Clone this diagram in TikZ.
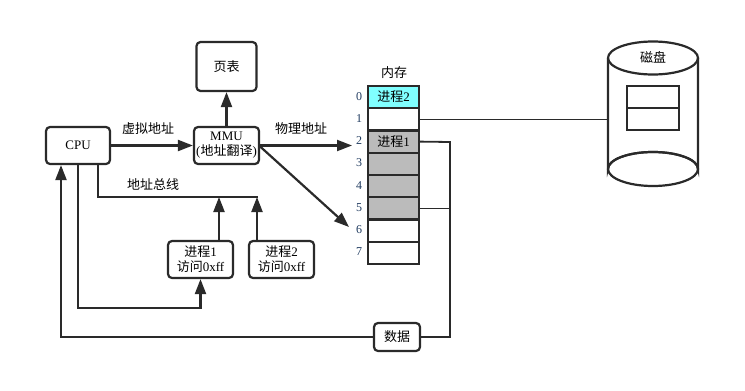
\documentclass[tikz,border=0pt]{standalone}
\usepackage{fontspec}
\setmainfont{Liberation Serif}
\newfontfamily\cjk{Noto Sans CJK SC}
\usetikzlibrary{arrows.meta}
\definecolor{ln}{HTML}{2A2A2A}
\definecolor{numc}{HTML}{1F3A5F}
\definecolor{cyanfill}{HTML}{80FFFF}
\definecolor{grayfill}{HTML}{BBBBBB}
\tikzset{
  box/.style={draw=ln, line width=2.2pt, rounded corners=4pt, fill=white, align=center, inner sep=0pt, font=\fontsize{13}{15}\selectfont},
  cell/.style={draw=ln, line width=2.2pt, minimum width=51pt, minimum height=22.25pt, inner sep=0pt, font=\fontsize{13}{15}\selectfont},
  num/.style={text=numc, font=\fontsize{12}{13}\selectfont, inner sep=0pt},
  lbl/.style={font=\fontsize{13}{15}\selectfont\cjk, inner sep=0pt},
  arr/.style={draw=ln, line width=2.2pt, -{Triangle[length=15pt,width=11pt]}},
  wire/.style={draw=ln, line width=1.8pt},
}
\begin{document}
\begin{tikzpicture}[x=1pt,y=-1pt]
\useasboundingbox (0,0) rectangle (745,391);
% boxes
\node[box, minimum width=64pt, minimum height=37pt] (cpu) at (78,145.5) {CPU};
\node[box, minimum width=65pt, minimum height=37pt] (mmu) at (226.5,145.5) {MMU\\[0pt]({\cjk 地址翻译})};
\node[box, minimum width=60pt, minimum height=49pt] (pt) at (226.5,66.5) {\cjk 页表};
\node[box, minimum width=65pt, minimum height=37pt] (p1) at (200.5,259.5) {{\cjk 进程}1\\[0pt]{\cjk 访问}0xff};
\node[box, minimum width=65pt, minimum height=37pt] (p2) at (281.5,259.5) {{\cjk 进程}2\\[0pt]{\cjk 访问}0xff};
\node[box, minimum width=46pt, minimum height=28pt] (data) at (397,337) {\cjk 数据};
% memory
\node[lbl] (memlbl) at (394,73) {内存};
\node[cell, fill=cyanfill] (m0) at (393.5,97.1) {{\cjk 进程}2};
\node[cell, fill=white] (m1) at (393.5,119.4) {};
\node[cell, fill=grayfill] (m2) at (393.5,141.6) {{\cjk 进程}1};
\node[cell, fill=grayfill] (m3) at (393.5,163.9) {};
\node[cell, fill=grayfill] (m4) at (393.5,186.1) {};
\node[cell, fill=grayfill] (m5) at (393.5,208.4) {};
\node[cell, fill=white] (m6) at (393.5,230.6) {};
\node[cell, fill=white] (m7) at (393.5,252.9) {};
\foreach \i in {0,...,7} {
  \node[num] (n\i) at (359,{86+22.25*(\i+0.5)-1}) {\i};
}
% labels
\node[lbl] (l1) at (148,129) {虚拟地址};
\node[lbl] (l2) at (301,129) {物理地址};
\node[lbl] (l3) at (153,185) {地址总线};
% disk
\coordinate (dtop) at (653,58);
\coordinate (dbot) at (653,169);
\draw[ln, line width=2.2pt, fill=white] (608,58) -- (608,169) arc[start angle=180, end angle=360, x radius=45pt, y radius=-17pt] -- (698,58);
\draw[ln, line width=2.2pt] (dbot) ellipse[x radius=45pt, y radius=17pt];
\draw[ln, line width=2.2pt] (dtop) ellipse[x radius=45pt, y radius=16.5pt];
\node[lbl] (disklbl) at (653,57) {磁盘};
\node[draw=ln, line width=2.2pt, minimum width=52pt, minimum height=22pt, inner sep=0pt] (d1) at (653,97) {};
\node[draw=ln, line width=2.2pt, minimum width=52pt, minimum height=22pt, inner sep=0pt] (d2) at (653,119) {};
\coordinate (diskw) at (608,120);
% connectors
\draw[arr] (cpu.east) -- (mmu.west);
\draw[arr] (mmu.north) -- (pt.south);
\coordinate (pa) at (352,145.5);
\draw[arr] (mmu.east) -- (pa);
\coordinate (d6) at (349,227);
\draw[arr] ([yshift=-1pt]mmu.east) -- (d6);
% bus
\coordinate (busR) at (258,197);
\draw[wire, line width=1.6pt] (cpu.south -| 98,0) |- (busR);
\coordinate (p1a) at (219,241);
\coordinate (p2a) at (257,241);
\draw[arr] (p1a) -- (p1a |- busR);
\draw[arr] (p2a) -- (p2a |- busR);
% cpu to p1
\coordinate (c1) at (78,308);
\draw[arr] (cpu.south -| c1) |- (p1.south |- c1) -- (p1.south);
% data line
\coordinate (c2) at (61,337);
\draw[arr] (data.west) -| (cpu.south -| c2);
\coordinate (c3) at (450,337);
\draw[wire] (data.east) -| (450,142) -- (m2.east);
\draw[wire] (m5.east) -- (m5.east -| c3);
\draw[wire] (m1.east) -- (m1.east -| diskw) -- (diskw);
\end{tikzpicture}
\end{document}
